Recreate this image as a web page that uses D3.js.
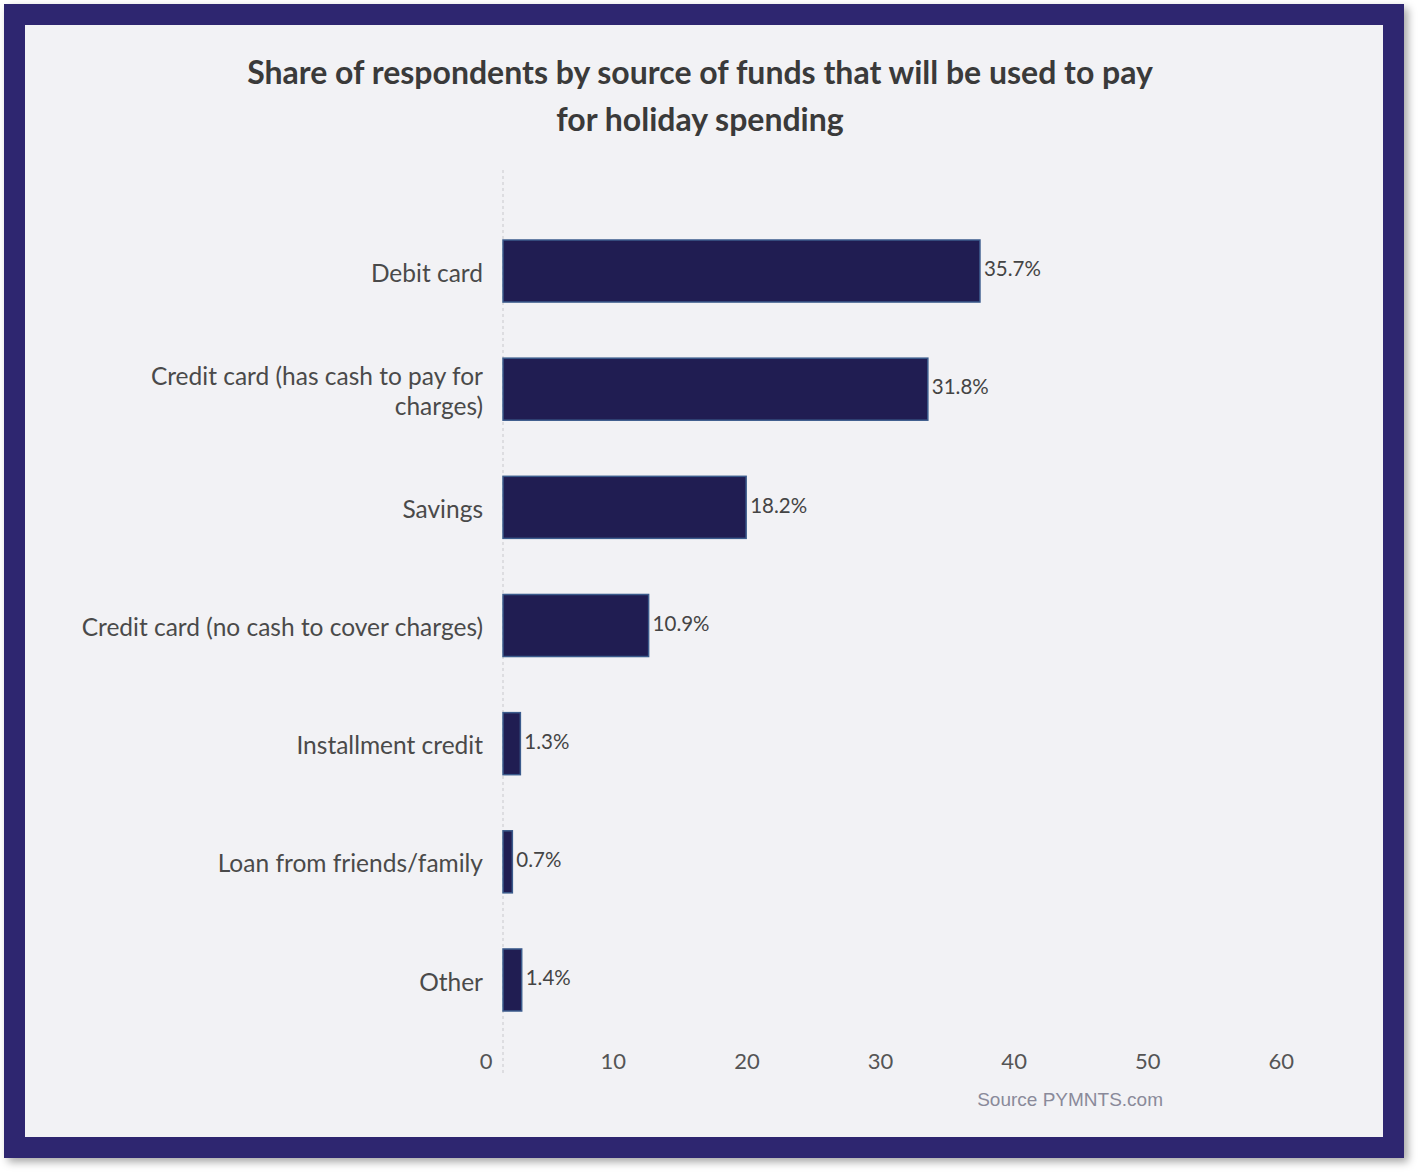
<!DOCTYPE html>
<html>
<head>
<meta charset="utf-8">
<script src="https://cdn.jsdelivr.net/npm/d3@7"></script>
<style>
  body { margin: 0; background: #ffffff; }
  svg { display: block; }
</style>
</head>
<body>
<div id="chartDiv"></div>
<script>
// chart data
var categories = [
    'Debit card',
    'Credit card (has cash to pay for charges)',
    'Savings',
    'Credit card (no cash to cover charges)',
    'Installment credit',
    'Loan from friends/family',
    'Other'
];
var shares = [35.7, 31.8, 18.2, 10.9, 1.3, 0.7, 1.4];
var tickValues = [0, 10, 20, 30, 40, 50, 60];
var titleLines = ['Share of respondents by source of funds that will be used to pay', 'for holiday spending'];
var sourceText = 'Source PYMNTS.com';

var svgWidth = 1420;
var svgHeight = 1175;

var svg = d3.select('#chartDiv')
            .append('svg')
            .attr('width', svgWidth)
            .attr('height', svgHeight);

// drop shadow for the frame
var defs = svg.append('defs');
var shadow = defs.append('filter')
                 .attr('id', 'shadow')
                 .attr('x', '-5%').attr('y', '-5%')
                 .attr('width', '110%').attr('height', '110%');
shadow.append('feDropShadow')
      .attr('dx', 4).attr('dy', 4)
      .attr('stdDeviation', 4)
      .attr('flood-color', '#000')
      .attr('flood-opacity', 0.35);

// frame and panel
svg.append('rect')
   .attr('x', 4).attr('y', 4)
   .attr('width', 1400).attr('height', 1154)
   .attr('fill', '#2f2570')
   .attr('filter', 'url(#shadow)');
svg.append('rect')
   .attr('x', 25).attr('y', 25)
   .attr('width', 1358).attr('height', 1112)
   .attr('fill', '#f2f2f5');

// title
svg.selectAll('.title')
   .data(titleLines)
   .enter()
   .append('text')
   .attr('class', 'title')
   .attr('x', 700)
   .attr('y', function(d, i) { return 84 + i * 47; })
   .attr('text-anchor', 'middle')
   .style('font-family', 'Lato, sans-serif')
   .style('font-weight', 'bold')
   .style('font-size', '32px')
   .style('fill', '#3a3a3a')
   .text(function(d) { return d; });

// scales
var x = d3.scaleLinear()
          .domain([0, 60])
          .range([503, 503 + 60 * 13.36]);

var y = d3.scaleBand()
          .domain(categories)
          .range([240, 1011])
          .paddingInner(0.475)
          .paddingOuter(0);

// dashed zero line
svg.append('line')
   .attr('x1', x(0)).attr('x2', x(0))
   .attr('y1', 170).attr('y2', 1075)
   .attr('stroke', '#c8c8cc')
   .attr('stroke-width', 1)
   .attr('stroke-dasharray', '3,3');

// x axis tick labels
var xAxis = d3.axisBottom(x)
              .tickValues(tickValues)
              .tickSize(0)
              .tickPadding(0);
var axisG = svg.append('g')
               .attr('transform', 'translate(0,1061)')
               .call(xAxis);
axisG.select('.domain').remove();
axisG.selectAll('text')
     .attr('dy', '0.35em')
     .attr('dx', -11)
     .attr('text-anchor', 'end')
     .style('font-family', 'Lato, sans-serif')
     .style('font-size', '22px')
     .style('fill', '#555');

// bars
svg.selectAll('.bar')
   .data(shares)
   .enter()
   .append('rect')
   .attr('class', 'bar')
   .attr('x', x(0))
   .attr('y', function(d, i) { return y(categories[i]); })
   .attr('width', function(d) { return x(d) - x(0); })
   .attr('height', y.bandwidth())
   .attr('fill', '#201d52')
   .attr('stroke', '#3b5b8c')
   .attr('stroke-width', 1.5);

// value labels
svg.selectAll('.value')
   .data(shares)
   .enter()
   .append('text')
   .attr('class', 'value')
   .attr('x', function(d) { return x(d) + 4; })
   .attr('y', function(d, i) { return y(categories[i]) + y.bandwidth() / 2 - 2; })
   .attr('dy', '0.35em')
   .style('font-family', 'Lato, sans-serif')
   .style('font-size', '20.5px')
   .style('fill', '#444')
   .text(function(d) { return d + '%'; });

// category labels, wrapped where they are long
var wrapped = {
    'Credit card (has cash to pay for charges)': ['Credit card (has cash to pay for', 'charges)']
};
categories.forEach(function(c) {
    var lines = wrapped[c] || [c];
    var cy = y(c) + y.bandwidth() / 2 + 2;
    var t = svg.append('text')
               .attr('text-anchor', 'end')
               .style('font-family', 'Lato, sans-serif')
               .style('font-size', '24.5px')
               .style('fill', '#4a4a4a');
    lines.forEach(function(line, i) {
        t.append('tspan')
         .attr('x', 483)
         .attr('y', cy + (i - (lines.length - 1) / 2) * 30)
         .attr('dy', '0.35em')
         .text(line);
    });
});

// source
svg.append('text')
   .attr('x', 1163)
   .attr('y', 1106)
   .attr('text-anchor', 'end')
   .style('font-family', '"Liberation Sans", Arial, sans-serif')
   .style('font-size', '19px')
   .style('fill', '#8a8a9a')
   .text(sourceText);
</script>
</body>
</html>
